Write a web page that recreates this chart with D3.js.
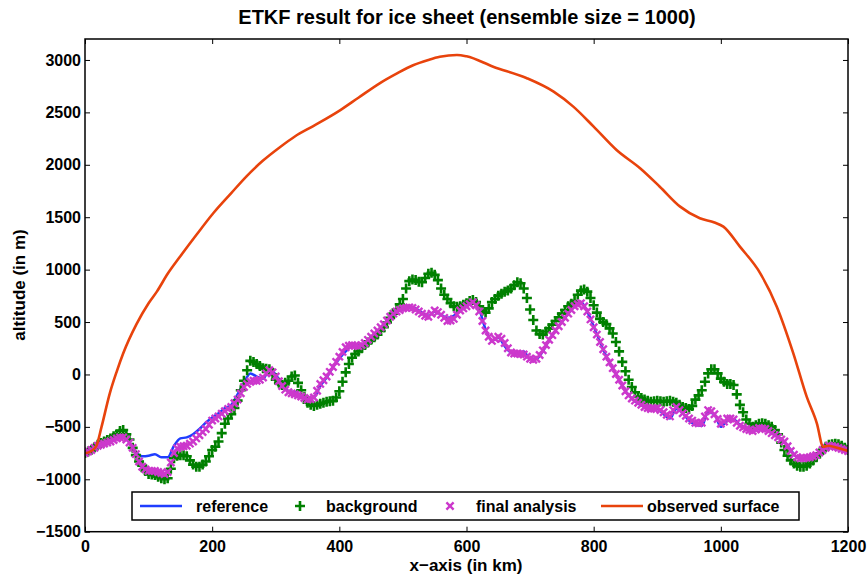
<!DOCTYPE html>
<html>
<head>
<meta charset="utf-8">
<script src="https://cdn.jsdelivr.net/npm/d3@7/dist/d3.min.js"></script>
<style>
  html, body { margin: 0; padding: 0; background: #fff; }
  svg { display: block; font-family: "Liberation Sans", Arial, Helvetica, sans-serif; }
  .tick text { font-size: 16px; font-weight: bold; fill: #000; }
</style>
</head>
<body>
<svg id="chart" width="867" height="575"></svg>
<script>
// ---------- data ----------
const title = "ETKF result for ice sheet (ensemble size = 1000)";
const xLabel = "x\u2212axis (in km)";
const yLabel = "altitude (in m)";
const xTicks = [0, 200, 400, 600, 800, 1000, 1200];
const yTicks = [-1500, -1000, -500, 0, 500, 1000, 1500, 2000, 2500, 3000];
const legendLabels = ["reference", "background", "final analysis", "observed surface"];

// x positions (km): reference line every 10 km, ensemble markers every 5 km
const refKm = d3.range(0, 1201, 10);
const markerKm = d3.range(0, 1201, 5);

const reference = [
  -750,-720,-680,-650,-630,-600,-595,-650,-740,-780,
  -775,-760,-790,-790,-680,-610,-600,-570,-520,-460,
  -410,-370,-320,-290,-190,-80,10,-20,-40,40,
  0,-100,-160,-170,-200,-230,-220,-110,-30,70,
  150,220,270,280,300,350,410,480,550,600,
  620,640,630,590,560,600,570,540,560,620,
  650,690,620,430,320,350,270,210,200,220,
  150,150,220,330,420,500,580,650,690,600,
  460,310,170,60,-50,-160,-230,-280,-310,-330,
  -330,-380,-420,-330,-370,-440,-480,-490,-360,-380,
  -500,-440,-430,-480,-510,-540,-520,-510,-550,-600,
  -640,-720,-790,-800,-790,-770,-720,-680,-690,-710,
  -730
];

const background = [
  -750,-735,-720,-695,-670,-655,-640,-625,-610,-590,
  -570,-540,-530,-570,-620,-700,-770,-830,-870,-920,
  -950,-955,-960,-975,-990,-1000,-990,-900,-800,-775,
  -770,-770,-780,-820,-860,-880,-880,-860,-830,-780,
  -720,-690,-640,-560,-470,-420,-380,-320,-250,-150,
  -60,40,130,120,100,80,60,55,50,0,
  -50,-80,-100,-80,-60,-20,-10,-80,-150,-215,
  -270,-290,-300,-290,-280,-270,-260,-255,-250,-220,
  -160,-70,20,100,160,195,220,250,280,305,
  330,355,380,415,450,495,540,580,620,670,
  720,820,890,905,900,885,880,920,960,970,
  950,900,820,760,720,680,650,645,650,665,
  680,700,710,690,650,610,590,630,690,720,
  750,770,790,800,820,850,880,870,820,730,
  620,520,420,385,380,410,440,475,510,545,
  580,615,650,675,700,760,800,810,790,730,
  660,590,530,500,480,440,390,310,220,120,
  30,-50,-120,-170,-210,-225,-240,-250,-260,-255,
  -250,-255,-260,-255,-250,-260,-270,-290,-310,-320,
  -330,-300,-240,-200,-150,-70,10,50,50,10,
  -40,-70,-90,-90,-100,-190,-290,-360,-430,-470,
  -500,-485,-470,-465,-470,-485,-500,-530,-570,-650,
  -720,-775,-820,-850,-870,-880,-880,-870,-850,-820,
  -790,-755,-720,-690,-670,-665,-660,-665,-680,-700,
  -720
];

const analysis = [
  -750,-735,-720,-700,-680,-670,-660,-650,-640,-625,
  -610,-600,-600,-620,-650,-700,-760,-830,-880,-905,
  -920,-920,-920,-930,-940,-950,-930,-840,-750,-705,
  -690,-685,-680,-660,-640,-610,-580,-550,-520,-480,
  -440,-420,-400,-375,-350,-330,-310,-275,-240,-180,
  -120,-90,-70,-60,-60,-50,-30,10,40,20,
  -20,-65,-110,-145,-170,-180,-190,-200,-210,-225,
  -240,-235,-220,-155,-90,-55,-20,25,70,120,
  170,215,260,275,280,275,270,280,300,330,
  360,390,420,450,480,515,550,580,600,615,
  630,635,640,635,620,600,580,560,550,580,
  610,595,570,540,510,515,530,570,610,630,
  650,670,690,660,600,510,420,360,320,340,
  360,340,300,250,210,200,200,195,190,170,
  150,140,150,185,230,280,330,375,420,460,
  500,540,580,615,650,670,680,650,600,525,
  450,380,310,240,170,115,60,5,-50,-105,
  -160,-200,-230,-250,-270,-290,-310,-320,-330,-325,
  -320,-340,-360,-385,-400,-340,-310,-340,-370,-395,
  -420,-440,-460,-465,-460,-400,-340,-350,-380,-425,
  -470,-450,-420,-420,-430,-460,-490,-505,-520,-530,
  -540,-525,-510,-515,-520,-540,-560,-580,-600,-620,
  -640,-685,-730,-765,-790,-800,-800,-795,-790,-780,
  -770,-745,-720,-700,-680,-685,-690,-700,-710,-720,
  -730
];

const surfaceKm = [0,10,18,26,39,50,60,81,100,113,130,149,175,202,230,254,280,307,330,359,
  401,430,464,490,516,540,558,585,600,642,695,737,768,800,836,873,904,936,967,990,
  1004,1030,1062,1088,1114,1135,1151,1161,1170,1177,1200];
const surfaceAlt = [-752,-730,-680,-500,-180,30,200,480,680,790,960,1120,1330,1540,1730,1890,2040,2170,2270,2370,
  2520,2640,2780,2870,2950,3000,3030,3048,3035,2936,2826,2698,2555,2364,2141,1967,1791,1601,1490,1450,
  1410,1219,965,647,202,-212,-466,-689,-680,-690,-730];

// ---------- styles ----------
const cRef = "#1f3dff";
const cBg = "#008000";
const cAn = "#cc38cc";
const cSurf = "#e8430c";

// ---------- scales ----------
const svg = d3.select("#chart");
const L = 85, R = 848, T = 39, B = 531.7;
const x = d3.scaleLinear().domain([0, 1200]).range([L, R]);
const y = d3.scaleLinear().domain([-1500, 3200]).range([B, T]);

svg.append("clipPath").attr("id", "clip").append("rect")
  .attr("x", L).attr("y", T).attr("width", R - L).attr("height", B - T);

const plot = svg.append("g").attr("clip-path", "url(#clip)");

const refData = refKm.map((k, i) => [k, reference[i]]);
const bgData = markerKm.map((k, i) => [k, background[i]]).filter(d => d[1] !== undefined);
const anData = markerKm.map((k, i) => [k, analysis[i]]).filter(d => d[1] !== undefined);
const surfData = surfaceKm.map((k, i) => [k, surfaceAlt[i]]);

const line = d3.line().x(d => x(d[0])).y(d => y(d[1])).curve(d3.curveMonotoneX);

plot.append("path").datum(refData).attr("d", line)
  .attr("fill", "none").attr("stroke", cRef).attr("stroke-width", 2.5);

const plusPath = r => `M${-r},0H${r}M0,${-r}V${r}`;
const crossPath = r => `M${-r},${-r}L${r},${r}M${-r},${r}L${r},${-r}`;

plot.append("g").selectAll("path").data(bgData).join("path")
  .attr("transform", d => `translate(${x(d[0])},${y(d[1])})`)
  .attr("d", plusPath(5)).attr("stroke", cBg).attr("stroke-width", 2.6).attr("fill", "none");

plot.append("g").selectAll("path").data(anData).join("path")
  .attr("transform", d => `translate(${x(d[0])},${y(d[1])})`)
  .attr("d", crossPath(3.6)).attr("stroke", cAn).attr("stroke-width", 2.4).attr("fill", "none");

plot.append("path").datum(surfData).attr("d", line)
  .attr("fill", "none").attr("stroke", cSurf).attr("stroke-width", 2.6);

// ---------- axes ----------
const fmt = d => (d < 0 ? "\u2212" + Math.abs(d) : String(d));

svg.append("g").attr("transform", `translate(${L},0)`)
  .call(d3.axisLeft(y).tickValues(yTicks).tickFormat(fmt).tickSizeInner(-5).tickSizeOuter(0).tickPadding(4))
  .call(g => g.select(".domain").remove());
svg.append("g").attr("transform", `translate(${R},0)`)
  .call(d3.axisRight(y).tickValues(yTicks).tickFormat("").tickSizeInner(-5).tickSizeOuter(0))
  .call(g => g.select(".domain").remove());
svg.append("g").attr("transform", `translate(0,${B})`)
  .call(d3.axisBottom(x).tickValues(xTicks).tickFormat(fmt).tickSizeInner(-5).tickSizeOuter(0).tickPadding(9))
  .call(g => g.select(".domain").remove());
svg.append("g").attr("transform", `translate(0,${T})`)
  .call(d3.axisTop(x).tickValues(xTicks).tickFormat("").tickSizeInner(-5).tickSizeOuter(0))
  .call(g => g.select(".domain").remove());

svg.selectAll(".tick line").attr("stroke", "#000").attr("stroke-width", 1);

svg.append("rect").attr("x", L).attr("y", T).attr("width", R - L).attr("height", B - T)
  .attr("fill", "none").attr("stroke", "#000").attr("stroke-width", 1.5);

// ---------- titles ----------
svg.append("text").attr("x", 467).attr("y", 24).attr("text-anchor", "middle")
  .attr("font-size", 20).attr("font-weight", "bold").text(title);
svg.append("text").attr("x", 466).attr("y", 571).attr("text-anchor", "middle")
  .attr("font-size", 17).attr("font-weight", "bold").text(xLabel);
svg.append("text").attr("transform", "translate(25,285) rotate(-90)").attr("text-anchor", "middle")
  .attr("font-size", 17).attr("font-weight", "bold").text(yLabel);

// ---------- legend ----------
const lg = svg.append("g");
lg.append("rect").attr("x", 132).attr("y", 492).attr("width", 667).attr("height", 28)
  .attr("fill", "#fff").attr("stroke", "#000").attr("stroke-width", 1.5);
const ly = 506;
lg.append("line").attr("x1", 140).attr("x2", 182).attr("y1", ly).attr("y2", ly)
  .attr("stroke", cRef).attr("stroke-width", 2.5);
lg.append("path").attr("transform", `translate(300,${ly})`).attr("d", plusPath(5))
  .attr("stroke", cBg).attr("stroke-width", 2.6).attr("fill", "none");
lg.append("path").attr("transform", `translate(450,${ly})`).attr("d", crossPath(3.6))
  .attr("stroke", cAn).attr("stroke-width", 2.4).attr("fill", "none");
lg.append("line").attr("x1", 601).attr("x2", 643).attr("y1", ly).attr("y2", ly)
  .attr("stroke", cSurf).attr("stroke-width", 2.6);
const textX = [196, 326, 476, 647];
legendLabels.forEach((t, i) => {
  lg.append("text").attr("x", textX[i]).attr("y", ly + 5.7).attr("font-size", 16)
    .attr("font-weight", "bold").text(t);
});
</script>
</body>
</html>
